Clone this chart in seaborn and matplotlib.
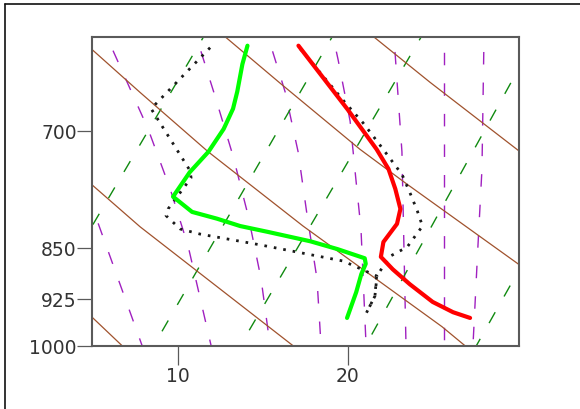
import matplotlib
matplotlib.use("Agg")
import matplotlib.pyplot as plt
import seaborn as sns
from matplotlib.lines import Line2D
from matplotlib.ticker import NullLocator

# sounding profiles (temperature degC, pressure hPa)
temp_t = [17.1, 20.0, 21.7, 22.4, 22.8, 23.1, 22.9, 22.1, 21.95, 22.65, 23.65, 25.0, 26.2, 27.2]
temp_p = [608, 676, 722, 746, 771, 797, 817, 842, 863, 881, 903, 930, 946, 955]

dewp_t = [14.1, 13.8, 13.5, 13.25, 12.7, 11.8, 10.7, 9.72, 10.84, 12.3, 13.67, 15.3, 17.8,
          19.4, 21.0, 21.06, 20.8, 20.5, 19.96]
dewp_p = [608, 627, 656, 675, 698, 725, 750, 781, 801, 810, 820, 828, 841,
          852, 865, 873, 888, 915, 955]

# second (dotted) sounding
temp2_t = [17.2, 19.84, 20.9, 21.9, 23.2, 23.7, 24.1, 24.4, 23.5, 22.5, 21.7, 21.6, 21.1]
temp2_p = [611, 668, 691, 717, 753, 778, 800, 820, 849, 862, 891, 921, 947]
dewp2_t = [11.9, 8.43, 10.72, 10.78, 9.43, 9.31, 10.14, 11.31, 14.85, 19.73, 21.72, 21.6, 21.1]
dewp2_p = [610, 675, 748, 757, 797, 806, 824, 831, 846, 869, 891, 921, 947]

# background guide lines (brown solid, purple dashed, green dashed)
brown_t = [[4.25, 6.72], [4.25, 4.96, 7.78, 16.78],
           [4.25, 4.96, 7.78, 11.79, 17.37, 25.55, 26.9],
           [12.78, 16.02, 20.72, 23.49, 30.02, 30.66], [21.52, 24.84, 30.08, 30.73]]
brown_p = [[936, 1000], [753, 766, 821, 1000],
           [602, 612, 657, 725, 820, 969, 1000],
           [599, 647, 722, 765, 873, 886], [599, 646, 724, 734]]

purple_t = [[4.4, 7.90], [5.82, 8.25, 9.55, 10.61, 11.96],
            [11.09, 12.19, 13.25, 14.14, 14.9, 15.43],
            [15.31, 16.31, 17.08, 17.6, 18.19, 18.43],
            [19.14, 19.43, 20.14, 20.49, 20.78, 21.08],
            [22.72, 23.19, 23.43], [25.64, 25.64], [28.02, 27.9, 27.66, 27.37]]
purple_p = [[760, 1000], [599, 698, 771, 848, 1000],
            [599, 661, 730, 806, 895, 1000],
            [599, 656, 725, 804, 895, 1000],
            [599, 622, 689, 761, 824, 1000],
            [599, 725, 1000], [599, 1000], [599, 746, 849, 1000]]

green_t = [[11.52, 4.25], [19.09, 8.58], [24.33, 13.67], [31.1, 21.05], [37.8, 27.57]]
green_p = [[599, 848], [599, 1000], [599, 1000], [599, 1000], [599, 1000]]

y_ticks = [700, 850, 925, 1000]
x_ticks = [10, 20]

sns.set_style("white")
plt.rcParams["font.family"] = ["DejaVu Sans"]
plt.rcParams["lines.scale_dashes"] = False

fig = plt.figure(figsize=(5.8, 4.1), dpi=100)
ax = fig.add_axes([92 / 580, 1 - 346.7 / 410, 426.5 / 580, 309 / 410])

for xs, ps in zip(brown_t, brown_p):
    ax.plot(xs, ps, color="#a0522d", lw=0.9, zorder=2)
for xs, ps in zip(purple_t, purple_p):
    ax.plot(xs, ps, color="#a020c0", lw=1.0, linestyle=(11, (9, 13)), zorder=1)
for xs, ps in zip(green_t, green_p):
    ax.plot(xs, ps, color="#108a10", lw=1.0, linestyle=(6, (9, 13)), zorder=1)

dots = (0, (1.9, 5.0))
sns.lineplot(x=temp2_t, y=temp2_p, sort=False, estimator=None, ax=ax,
             color="#1a1a1a", lw=2.0, linestyle=dots, zorder=3)
sns.lineplot(x=dewp2_t, y=dewp2_p, sort=False, estimator=None, ax=ax,
             color="#1a1a1a", lw=2.0, linestyle=dots, zorder=3)
sns.lineplot(x=temp_t, y=temp_p, sort=False, estimator=None, ax=ax,
             color="#ff0000", lw=3.0, zorder=4)
sns.lineplot(x=dewp_t, y=dewp_p, sort=False, estimator=None, ax=ax,
             color="#00ff00", lw=3.0, zorder=4)

ax.set_yscale("log")
ax.set_ylim(1000, 599)
ax.set_xlim(4.95, 30.05)
ax.set_yticks(y_ticks)
ax.set_yticklabels([str(v) for v in y_ticks])
ax.yaxis.set_minor_locator(NullLocator())
ax.set_xticks(x_ticks)
ax.set_xticklabels([str(v) for v in x_ticks])
ax.set_xlabel("")
ax.set_ylabel("")

for sp in ax.spines.values():
    sp.set_color("#5a5a5a")
    sp.set_linewidth(1.5)
ax.tick_params(axis="y", left=True, length=11, width=0.9, color="#5a5a5a", pad=0,
               labelsize=13.5, labelcolor="#333333")
ax.tick_params(axis="x", bottom=True, length=13.5, width=0.9, color="#5a5a5a", pad=1,
               labelsize=13.5, labelcolor="#333333")

# outer frame (only the left and top edges are visible)
fig.add_artist(Line2D([4.5 / 580, 4.5 / 580], [0, 1 - 5 / 410], color="#111111", lw=1.2))
fig.add_artist(Line2D([4.5 / 580, 1], [1 - 5 / 410, 1 - 5 / 410], color="#111111", lw=1.2))

fig.savefig("out.png", dpi=100)
